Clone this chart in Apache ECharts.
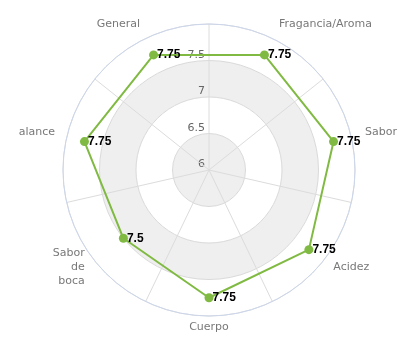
<!DOCTYPE html>
<html><head><meta charset="utf-8">
<script src="https://cdn.jsdelivr.net/npm/echarts@6/dist/echarts.min.js"></script>
<style>html,body{margin:0;padding:0;background:#fff}#c{width:411px;height:360px}</style>
</head><body><div id="c"></div>
<script>
var categories = ['Fragancia/Aroma', 'Sabor', 'Acidez', 'Cuerpo', 'Sabor\nde\nboca', 'alance', 'General'];
var scores = [7.75, 7.75, 7.75, 7.75, 7.5, 7.75, 7.75];
var radiusMin = 6, radiusMax = 8, radiusStep = 0.5;

var labelAlign = ['left', 'left', 'left', 'center', 'right', 'right', 'right'];
var labelOffset = [[1, -2], [1, -1], [0, -1], [0, -1], [0, -1], [1, -1], [0, -2]];

var pts = categories.map(function (c, i) { return { value: [scores[i], i] }; });
pts.push({ value: [scores[0], 0], label: { show: false }, symbolSize: 0 });

var namePts = categories.map(function (c, i) {
  return { name: c, value: [1, i], label: { align: labelAlign[i], offset: labelOffset[i] } };
});

var hiddenAngle = function (idx) {
  return { polarIndex: idx, type: 'category', data: categories, startAngle: 90, clockwise: true, boundaryGap: true,
    axisLine: { show: false }, axisTick: { show: false }, axisLabel: { show: false }, splitLine: { show: false } };
};

var chart = echarts.init(document.getElementById('c'));
chart.setOption({
  animation: false,
  textStyle: { fontFamily: 'DejaVu Sans' },
  polar: [
    { center: [209, 170], radius: 146 },
    { center: [209, 170], radius: 146 },
    { center: [209, 169], radius: 159 }
  ],
  angleAxis: [
    {
      polarIndex: 0, type: 'category', data: categories, startAngle: 90, clockwise: true, boundaryGap: true,
      axisLine: { show: true, lineStyle: { color: '#ccd6eb', width: 1 } },
      axisTick: { show: false },
      splitLine: { show: true, lineStyle: { color: '#dcdcdc', width: 1 } },
      axisLabel: { show: false },
      z: 3
    },
    hiddenAngle(1),
    hiddenAngle(2)
  ],
  radiusAxis: [
    {
      polarIndex: 0, type: 'value', min: radiusMin, max: radiusMax, interval: radiusStep,
      axisLine: { show: false }, axisTick: { show: false },
      splitLine: { show: false },
      splitArea: { show: true, areaStyle: { color: ['#efefef', '#ffffff'] } },
      axisLabel: { color: '#666', fontSize: 11, showMaxLabel: false, verticalAlign: 'bottom', margin: 4 },
      z: 2
    },
    {
      polarIndex: 1, type: 'value', min: radiusMin, max: radiusMax, interval: radiusStep,
      axisLine: { show: false }, axisTick: { show: false }, axisLabel: { show: false },
      splitLine: { show: true, lineStyle: { color: '#d9d9d9', width: 1 } },
      z: 2.5
    },
    {
      polarIndex: 2, type: 'value', min: 0, max: 1,
      axisLine: { show: false }, axisTick: { show: false }, axisLabel: { show: false }, splitLine: { show: false }
    }
  ],
  series: [
    {
      type: 'line', coordinateSystem: 'polar', polarIndex: 0, data: pts,
      symbol: 'circle', symbolSize: 9,
      lineStyle: { color: '#80ba42', width: 2 },
      itemStyle: { color: '#80ba42' },
      label: { show: true, position: 'right', distance: -1, color: '#000', fontSize: 12, fontWeight: 'bold',
        fontFamily: 'Liberation Sans', padding: [0, 0, 3, 0],
        formatter: function (p) { return p.value[0]; } },
      z: 10
    },
    {
      type: 'scatter', coordinateSystem: 'polar', polarIndex: 2, data: namePts, clip: false,
      symbolSize: 1, itemStyle: { color: 'rgba(0,0,0,0)' }, silent: true,
      label: { show: true, position: 'inside', verticalAlign: 'middle', color: '#555', fontSize: 11, lineHeight: 14,
        fontFamily: 'DejaVu Sans', formatter: function (p) { return p.name; } },
      z: 4
    }
  ]
});
</script></body></html>
